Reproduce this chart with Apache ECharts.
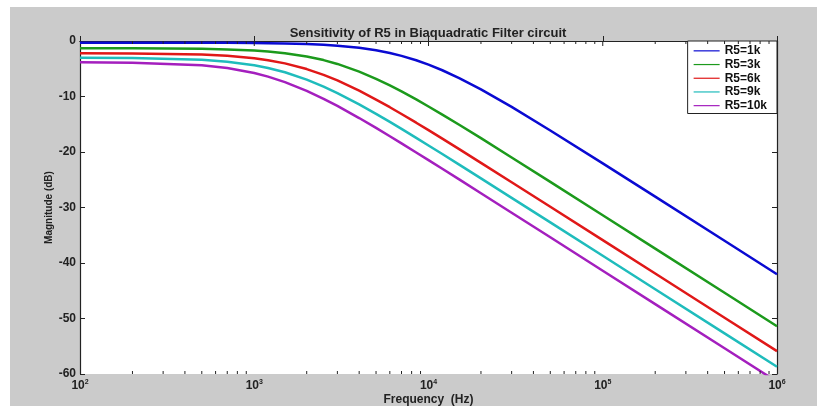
<!DOCTYPE html>
<html>
<head>
<meta charset="utf-8">
<script src="https://cdn.jsdelivr.net/npm/echarts@6/dist/echarts.min.js"></script>
<style>
html, body { margin: 0; padding: 0; background: #fff; }
#chart { position: absolute; left: 10px; top: 7px; width: 807px; height: 399px; background: #cbcbcb; }
</style>
</head>
<body>
<div id="chart"></div>
<script>
var freqs = [100, 200, 500, 700, 1000, 1200, 1500, 2000, 2500, 3000, 4000, 5000, 6000, 7000, 8500,
             10000, 12000, 15000, 20000, 30000, 50000, 100000, 200000, 500000, 1000000];

// magnitude in dB
var r5_1k  = [-0.30, -0.30, -0.32, -0.33, -0.36, -0.39, -0.44, -0.55, -0.69, -0.85, -1.23, -1.67, -2.16, -2.68, -3.47,
              -4.26, -5.27, -6.68, -8.72, -11.88, -16.12, -22.05, -28.05, -36.00, -42.02];
var r5_3k  = [-1.30, -1.32, -1.41, -1.51, -1.72, -1.90, -2.20, -2.79, -3.44, -4.13, -5.51, -6.81, -8.00, -9.08, -10.53,
              -11.80, -13.26, -15.10, -17.51, -20.98, -25.39, -31.39, -37.41, -45.37, -51.39];
var r5_6k  = [-2.21, -2.24, -2.45, -2.67, -3.11, -3.46, -4.03, -5.06, -6.11, -7.11, -8.95, -10.55, -11.93, -13.15, -14.72,
              -16.06, -17.59, -19.48, -21.95, -25.44, -29.87, -35.88, -41.90, -49.86, -55.88];
var r5_9k  = [-3.02, -3.06, -3.39, -3.73, -4.37, -4.86, -5.64, -6.96, -8.22, -9.38, -11.42, -13.13, -14.58, -15.84, -17.45,
              -18.82, -20.37, -22.28, -24.75, -28.26, -32.69, -38.70, -44.72, -52.68, -58.70];
var r5_10k = [-3.82, -3.90, -4.38, -4.88, -5.77, -6.42, -7.40, -8.98, -10.42, -11.70, -13.88, -15.66, -17.16, -18.44, -20.08,
              -21.46, -23.02, -24.94, -27.43, -30.94, -35.37, -41.39, -47.41, -55.37, -61.39];

var names  = ['R5=1k', 'R5=3k', 'R5=6k', 'R5=9k', 'R5=10k'];
var colors = ['#0a0ad2', '#1c9a1c', '#e01818', '#1fbcbc', '#a41fbe'];

// ticks along the top edge and minor ticks along the bottom edge: [freq, length]
var edgeTicks = [];
[100, 1000, 10000, 100000].forEach(function (d) {
    if (d > 100) edgeTicks.push([d, 5]);
    for (var k = 2; k <= 9; k++) edgeTicks.push([d * k, 3]);
});

var FONT = 'Liberation Sans';
var chart = echarts.init(document.getElementById('chart'));

function pairs(ys) {
    return freqs.map(function (f, i) { return [f, ys[i]]; });
}

var allData = [r5_1k, r5_3k, r5_6k, r5_9k, r5_10k];
var series = allData.map(function (ys, i) {
    return {
        name: names[i],
        type: 'line',
        data: pairs(ys),
        symbol: 'none',
        clip: true,
        lineStyle: { width: 2.5, color: colors[i] },
        itemStyle: { color: colors[i] },
        z: 3
    };
});

series.push({
    type: 'custom',
    name: 'ticks',
    data: edgeTicks,
    silent: true,
    clip: false,
    z: 4,
    renderItem: function (params, api) {
        var len = api.value(1);
        var bot = api.coord([api.value(0), -60]);
        var top = api.coord([api.value(0), 0]);
        var st = { stroke: '#222', lineWidth: 1 };
        var kids = [
            { type: 'line', shape: { x1: top[0], y1: top[1], x2: top[0], y2: top[1] + len }, style: st }
        ];
        if (len < 5) {
            kids.push({ type: 'line', shape: { x1: bot[0], y1: bot[1], x2: bot[0], y2: bot[1] - len }, style: st });
        }
        return { type: 'group', children: kids };
    }
});

var axisLineStyle = { color: '#222', width: 1.2 };

var option = {
    animation: false,
    textStyle: { fontFamily: FONT },
    title: {
        text: 'Sensitivity of R5 in Biaquadratic Filter circuit',
        left: 418,
        textAlign: 'center',
        top: 20,
        padding: 0,
        textStyle: { fontFamily: FONT, fontSize: 13, fontWeight: 'bold', color: '#222' }
    },
    legend: {
        data: names,
        orient: 'vertical',
        right: 40,
        top: 34,
        padding: [3, 10, 1, 6],
        icon: 'rect',
        itemWidth: 26,
        itemHeight: 1.2,
        itemGap: 0,
        backgroundColor: '#fff',
        borderColor: '#222',
        borderWidth: 1,
        borderRadius: 0,
        textStyle: { fontFamily: FONT, fontSize: 12, lineHeight: 13.7, fontWeight: 'bold', color: '#111' }
    },
    grid: {
        left: 70,
        right: 40,
        top: 34,
        bottom: 32,
        outerBoundsMode: 'none',
        show: true,
        backgroundColor: '#fff',
        borderWidth: 0
    },
    xAxis: [
        {
            type: 'log',
            logBase: 10,
            min: 100,
            max: 1000000,
            name: 'Frequency  (Hz)',
            nameLocation: 'middle',
            nameGap: 20,
            nameMoveOverlap: false,
            nameTextStyle: { fontFamily: FONT, fontSize: 12, fontWeight: 'bold', color: '#222' },
            axisLine: { lineStyle: axisLineStyle },
            axisTick: { inside: true, length: 5, lineStyle: { color: '#222' } },
            splitLine: { show: false },
            axisLabel: {
                margin: 5,
                formatter: function (v) {
                    var e = Math.round(Math.log10(v));
                    return '{b|10}{s|' + e + '}';
                },
                rich: {
                    b: { fontFamily: FONT, fontSize: 12, fontWeight: 'bold', color: '#222', lineHeight: 14 },
                    s: { fontFamily: FONT, fontSize: 7, fontWeight: 'bold', color: '#222', verticalAlign: 'top', lineHeight: 8 }
                }
            }
        },
        {
            type: 'log',
            logBase: 10,
            min: 100,
            max: 1000000,
            position: 'top',
            axisLine: { lineStyle: axisLineStyle },
            axisTick: { show: false },
            axisLabel: { show: false },
            splitLine: { show: false }
        }
    ],
    yAxis: [
        {
            type: 'value',
            min: -60,
            max: 0,
            interval: 10,
            name: 'Magnitude (dB)',
            nameLocation: 'middle',
            nameGap: 26,
            nameMoveOverlap: false,
            nameRotate: 90,
            nameTextStyle: { fontFamily: FONT, fontSize: 10, fontWeight: 'bold', color: '#222' },
            axisLine: { show: true, lineStyle: axisLineStyle },
            axisTick: { show: true, inside: true, length: 5, lineStyle: { color: '#222' } },
            splitLine: { show: false },
            axisLabel: { margin: 4, fontFamily: FONT, fontSize: 12, fontWeight: 'bold', color: '#222' }
        },
        {
            type: 'value',
            min: -60,
            max: 0,
            interval: 10,
            position: 'right',
            axisLine: { show: true, lineStyle: axisLineStyle },
            axisTick: { show: true, inside: true, length: 5, lineStyle: { color: '#222' } },
            axisLabel: { show: false },
            splitLine: { show: false }
        }
    ],
    series: series
};

chart.setOption(option);
</script>
</body>
</html>
